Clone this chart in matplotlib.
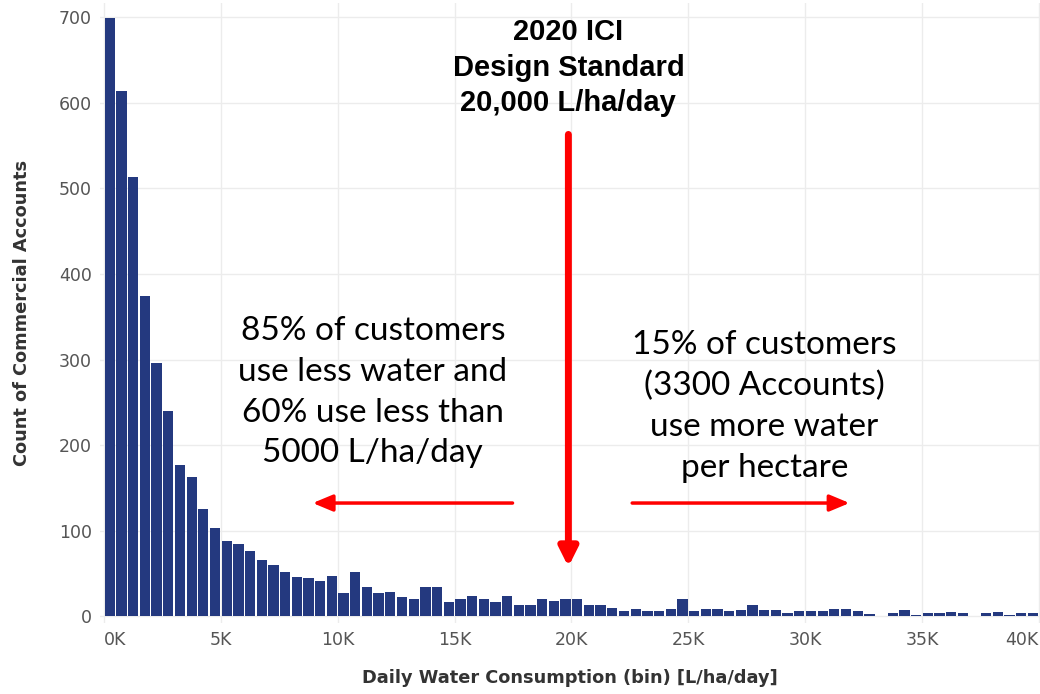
import matplotlib
matplotlib.use("Agg")
import matplotlib.pyplot as plt
import numpy as np

# histogram of daily water consumption, 500 L/ha/day bins starting at 0
bin_width = 500
counts = [
    699, 614, 513, 374, 296, 240, 177, 163, 126, 103,
    88, 85, 77, 66, 60, 52, 46, 45, 41, 47,
    28, 52, 35, 27, 29, 23, 20, 35, 34, 17,
    20, 24, 21, 17, 24, 13, 13, 21, 18, 21,
    20, 13, 13, 10, 7, 9, 7, 7, 9, 21,
    7, 9, 9, 6, 8, 14, 8, 8, 4, 6,
    7, 6, 9, 9, 7, 3, 1, 4, 8, 2,
    4, 4, 5, 4, 0, 4, 5, 2, 4, 4,
]
x_ticks = [0, 5000, 10000, 15000, 20000, 25000, 30000, 35000, 40000]
x_tick_labels = ["0K", "5K", "10K", "15K", "20K", "25K", "30K", "35K", "40K"]
y_ticks = [0, 100, 200, 300, 400, 500, 600, 700]

design_standard = 20000
title_lines = "2020 ICI\nDesign Standard\n20,000 L/ha/day"
left_note = "85% of customers\nuse less water and\n60% use less than\n5000 L/ha/day"
right_note = "15% of customers\n(3300 Accounts)\nuse more water\nper hectare"

bar_color = "#24397f"
grid_color = "#ececec"
tick_color = "#555555"
arrow_color = "#ff0000"

fig = plt.figure(figsize=(10.4, 6.94), dpi=100)
ax = fig.add_axes([0.0962, 0.1023, 0.9038, 0.8934])

centers = np.arange(len(counts)) * bin_width + bin_width / 2
ax.bar(centers, counts, width=bin_width * 0.88, color=bar_color, zorder=2)

ax.set_xlim(-170, 40050)
ax.set_ylim(-7.6, 716.5)

ax.set_xticks(x_ticks)
ax.set_xticklabels(x_tick_labels)
ax.set_yticks(y_ticks)
ax.grid(True, color=grid_color, linewidth=1, zorder=0)
ax.set_axisbelow(True)
for s in ax.spines.values():
    s.set_visible(False)
ax.tick_params(axis="both", length=0, labelsize=12.5, colors=tick_color)
ax.tick_params(axis="x", pad=6)
ax.tick_params(axis="y", pad=6)
xl = ax.get_xticklabels()
xl[0].set_horizontalalignment("left")
xl[-1].set_horizontalalignment("right")

ax.set_xlabel("Daily Water Consumption (bin) [L/ha/day]",
              fontweight="bold", fontsize=12.8, color="#333333", labelpad=14)
ax.set_ylabel("Count of Commercial Accounts",
              fontweight="bold", fontsize=12.8, color="#333333", labelpad=20)

# annotations
ax.text(design_standard - 130, 641, title_lines, ha="center", va="center",
        family=["Liberation Sans", "DejaVu Sans"], fontweight="bold",
        fontsize=21, linespacing=1.33, zorder=5)
ax.annotate("", xy=(design_standard - 130, 58), xytext=(design_standard - 130, 563),
            arrowprops=dict(arrowstyle="-|>,head_length=1.1,head_width=0.55",
                            color=arrow_color, lw=5, shrinkA=0, shrinkB=0), zorder=5)

ax.text(11500, 262, left_note, ha="center", va="center",
        family=["Lato", "DejaVu Sans"], fontsize=24, linespacing=1.45, zorder=5)
ax.text(28250, 245, right_note, ha="center", va="center",
        family=["Lato", "DejaVu Sans"], fontsize=24, linespacing=1.45, zorder=5)

ax.annotate("", xy=(8930, 132.5), xytext=(17480, 132.5),
            arrowprops=dict(arrowstyle="-|>,head_length=1.2,head_width=0.5",
                            color=arrow_color, lw=2.5, shrinkA=0, shrinkB=0), zorder=5)
ax.annotate("", xy=(31900, 132.5), xytext=(22600, 132.5),
            arrowprops=dict(arrowstyle="-|>,head_length=1.2,head_width=0.5",
                            color=arrow_color, lw=2.5, shrinkA=0, shrinkB=0), zorder=5)

fig.savefig("out.png", dpi=100)
